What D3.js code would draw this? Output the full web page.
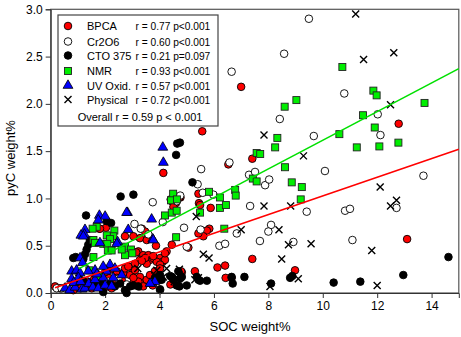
<!DOCTYPE html>
<html>
<head>
<meta charset="utf-8">
<title>pyC vs SOC</title>
<script src="https://cdn.jsdelivr.net/npm/d3@7"></script>
<style>
  body { margin: 0; background: #fff; }
  text { font-family: Arial, "Liberation Sans", sans-serif; fill: #000; }
</style>
</head>
<body>
<svg id="vis" width="461" height="337"></svg>
<script>
// values, [SOC weight%, pyC weight%]
const bpca = [[7.0,2.18],[5.57,1.71],[12.79,1.79],[7.41,1.42],[4.14,1.27],[6.53,1.36],[13.1,0.57],[7.41,0.36],[8.98,0.24],
  [5.43,1.05],[4.77,1.01],[5.45,0.95],[5.88,0.90],[5.49,0.93],[4.45,0.97],[4.6,0.95],[4.51,0.91],[4.41,0.99],[4.73,1.01],
  [5.83,0.68],[5.74,0.66],[5.61,0.60],[5.43,0.63],[3.35,0.68],[3.47,0.65],[3.59,0.60],[3.28,0.58],[3.53,0.56],[2.73,0.60],
  [3.04,0.60],[1.79,0.68],[2.03,0.69],[1.81,0.68],[4.45,0.51],[3.87,0.50],[5.06,0.48],[4.26,0.44],[3.22,0.44],[3.4,0.40],
  [3.28,0.35],[3.1,0.31],[3.59,0.40],[3.65,0.35],[3.53,0.31],[4.02,0.37],[4.12,0.33],[4.2,0.35],[3.77,0.37],[3.9,0.33],
  [4.02,0.30],[3.14,0.43],[3.47,0.37],[3.35,0.34],[4.2,0.42],[3.77,0.39],[6.13,0.27],[6.41,0.29],[5.3,0.23],[6.43,0.16],
  [6.65,0.16],[4.82,0.22],[4.79,0.23],[3.04,0.24],[2.98,0.19],[3.16,0.14],[3.04,0.10],[3.28,0.07],[3.47,0.12],[3.59,0.14],
  [2.43,0.23],[2.67,0.21],[2.92,0.19],[2.73,0.26],[2.85,0.28],[3.1,0.24],[3.28,0.17],[3.53,0.14],[3.65,0.19],[3.83,0.23],
  [4.02,0.26],[2.85,0.07],[2.61,0.14],[3.22,0.12],[3.4,0.07],[3.04,0.16],[2.43,0.16],[2.12,0.16],[0.16,0.07],[0.34,0.05],
  [0.83,0.03],[1.32,0.08],[1.51,0.05],[1.93,0.03],[2.06,0.07],[2.24,0.05],[1.36,0.12],[1.6,0.15],[1.85,0.18],[2.0,0.22],
  [2.2,0.25],[2.35,0.12],[1.1,0.05],[0.55,0.06],[4.4,0.09],[3.75,0.08]];
const cr2o6 = [[9.49,2.90],[8.58,2.53],[6.65,2.34],[10.79,2.11],[8.42,1.84],[12.02,1.89],[12.12,1.67],[9.67,1.66],[6.57,1.38],
  [5.53,1.31],[10.08,1.29],[13.7,1.24],[7.29,1.25],[7.51,1.28],[7.88,1.14],[8.03,1.20],[5.4,1.15],[5.59,1.06],[5.98,1.04],
  [4.76,1.03],[3.75,0.96],[4.63,0.97],[7.33,0.92],[9.41,0.86],[10.82,0.87],[11.0,0.89],[12.71,0.90],[4.12,0.75],[3.08,0.73],
  [3.31,0.68],[3.59,0.62],[4.9,0.69],[5.51,0.67],[6.84,0.63],[8.1,0.72],[8.0,0.65],[7.69,0.55],[8.92,0.54],[11.09,0.56],
  [5.0,0.49],[6.2,0.50],[6.41,0.52],[4.02,0.03],[0.22,0.05],[0.4,0.05],[0.65,0.07],[2.12,0.12],[2.48,0.15],[2.8,0.09],
  [1.2,0.10],[1.7,0.20]];
const cto375 = [[4.75,1.59],[4.65,1.58],[4.61,1.46],[5.21,1.17],[2.57,1.02],[3.04,1.04],[1.3,0.82],[2.06,0.76],[2.22,0.74],
  [1.44,0.56],[1.38,0.51],[1.32,0.46],[1.26,0.41],[1.2,0.36],[0.83,0.37],[0.92,0.38],[14.62,0.38],[12.96,0.19],[11.38,0.12],
  [10.4,0.11],[8.1,0.10],[8.8,0.16],[8.88,0.18],[7.12,0.17],[6.65,0.17],[6.69,0.10],[5.49,0.13],[5.74,0.13],[5.37,0.17],
  [5.43,0.14],[4.75,0.15],[4.73,0.07],[5.0,0.08],[4.69,0.23],[4.82,0.17],[4.51,0.14],[4.63,0.08],[4.39,0.18],[4.02,0.14],
  [4.02,0.19],[4.08,0.14],[3.83,0.16],[4.02,0.04],[2.92,0.07],[3.22,0.07],[3.04,0.08],[2.55,0.10],[2.36,0.07],[2.18,0.10],
  [2.73,0.03],[2.79,0.00],[1.08,0.14],[1.2,0.12],[1.63,0.10],[1.75,0.12],[1.87,0.10],[1.93,0.01],[4.45,0.17]];
const nmr = [[10.72,2.39],[11.86,2.14],[11.98,2.09],[9.03,2.04],[8.6,1.97],[13.74,2.01],[11.48,1.88],[11.91,1.75],[8.33,1.64],
  [10.61,1.68],[8.25,1.54],[11.25,1.54],[12.08,1.55],[12.78,1.59],[7.57,1.48],[7.7,1.47],[8.61,1.33],[7.43,1.21],[7.57,1.18],
  [8.86,1.17],[9.23,1.12],[9.19,0.99],[6.78,1.09],[6.8,1.03],[5.82,1.07],[6.22,1.01],[6.22,0.90],[6.44,0.93],[5.49,0.85],
  [6.38,0.68],[4.5,1.05],[4.42,0.98],[4.64,0.99],[4.2,0.82],[4.45,0.85],[4.63,0.87],[4.61,0.59],[1.69,0.70],[1.54,0.68],
  [2.34,0.66],[1.57,0.56],[1.63,0.53],[2.3,0.60],[2.06,0.61],[2.18,0.57],[1.93,0.52],[2.08,0.52],[2.1,0.45],[2.24,0.45],
  [2.73,0.49],[2.95,0.46],[2.73,0.40],[3.0,0.42],[2.61,0.46],[1.57,0.38],[1.42,0.24],[1.79,0.18]];
const uvOxid = [[4.12,1.54],[4.14,1.38],[2.82,0.85],[1.79,0.82],[2.0,0.81],[1.75,0.77],[2.79,0.85],[3.71,0.78],[3.75,0.57],
  [3.77,0.56],[1.26,0.67],[1.24,0.62],[1.11,0.61],[1.2,0.60],[2.85,0.67],[1.81,0.53],[2.46,0.54],[2.43,0.52],[1.08,0.37],
  [1.17,0.32],[0.77,0.23],[0.95,0.24],[1.08,0.21],[1.63,0.24],[2.18,0.30],[2.36,0.26],[2.05,0.23],[1.93,0.28],[3.71,0.10],
  [3.83,0.12],[3.65,0.10],[0.53,0.05],[0.7,0.03],[0.77,0.15],[0.9,0.06],[1.02,0.16],[1.15,0.04],[1.26,0.05],[1.38,0.23],
  [1.4,0.10],[1.55,0.06],[1.63,0.14],[1.75,0.05],[1.93,0.16],[2.0,0.08],[2.24,0.07],[2.61,0.19],[2.3,0.16],[0.85,0.11],
  [1.1,0.12],[1.7,0.20]];
const physical = [[11.21,2.95],[11.5,2.47],[12.61,2.54],[12.49,1.99],[7.84,1.67],[9.29,1.45],[12.11,1.12],[7.84,0.92],
  [8.82,0.92],[12.49,0.92],[12.71,0.98],[7.0,0.67],[8.39,0.67],[8.74,0.51],[9.57,0.52],[11.8,0.45],[8.49,0.36],[9.1,0.15],
  [8.06,0.07],[12.0,0.08],[5.35,0.81],[5.61,0.41],[5.82,0.37],[5.3,0.14],[4.75,0.17],[3.9,0.24],[4.73,0.25],[4.54,0.12],
  [3.83,0.19],[4.63,0.17],[3.2,0.26],[4.14,0.17],[4.26,0.26],[5.43,0.16]];

const seriesNames = ["BPCA", "Cr2O6", "CTO 375", "NMR", "UV Oxid.", "Physical"];
const seriesStats = ["r = 0.77 p<0.001", "r = 0.60 p<0.001", "r = 0.21 p=0.097", "r = 0.93 p<0.001", "r = 0.57 p<0.001", "r = 0.72 p<0.001"];
const overallText = "Overall r = 0.59 p < 0.001";

// regression lines (green = NMR, red = BPCA)
const fitNames = ["NMR", "BPCA"];
const fitIntercepts = [0.10, 0.04];
const fitSlopes = [0.1515, 0.0987];
const fitStart = [1.04, 0.16];

const xTicks = [0, 2, 4, 6, 8, 10, 12, 14];
const yTicks = [0, 0.5, 1.0, 1.5, 2.0, 2.5, 3.0];

const svg = d3.select("#vis");

const x = d3.scaleLinear().domain([0, 15]).range([50.7, 458.8]);
const y = d3.scaleLinear().domain([0, 3]).range([293, 9.3]);

// frame
svg.append("rect")
  .attr("x", x(0)).attr("y", y(3))
  .attr("width", x(15) - x(0)).attr("height", y(0) - y(3))
  .attr("fill", "none").attr("stroke", "#555").attr("stroke-width", 1.2);

const gx = svg.append("g").attr("transform", `translate(0,${y(0)})`)
  .call(d3.axisBottom(x).tickValues(xTicks).tickSize(5).tickPadding(3).tickFormat(d3.format("d")));
const gy = svg.append("g").attr("transform", `translate(${x(0)},0)`)
  .call(d3.axisLeft(y).tickValues(yTicks).tickSize(5).tickPadding(3).tickFormat(d3.format(".1f")));
[gx, gy].forEach(g => {
  g.selectAll("text").attr("font-size", 12).attr("font-family", "Arial, 'Liberation Sans', sans-serif");
  g.select(".domain").attr("stroke", "#333");
  g.selectAll(".tick line").attr("stroke", "#333");
});

svg.append("text").attr("x", 250).attr("y", 331).attr("text-anchor", "middle")
  .attr("font-size", 13).text("SOC weight%");
svg.append("text").attr("transform", "translate(15,158) rotate(-90)").attr("text-anchor", "middle")
  .attr("font-size", 13).text("pyC weight%");

// marker drawers
const tri = d3.symbol().type(d3.symbolTriangle).size(42)();
const markers = {
  "BPCA": (g) => g.append("circle").attr("r", 3.8).attr("fill", "#ff0000").attr("stroke", "#000").attr("stroke-width", 0.9),
  "Cr2O6": (g) => g.append("circle").attr("r", 3.8).attr("fill", "#fff").attr("stroke", "#000").attr("stroke-width", 0.9),
  "CTO 375": (g) => g.append("circle").attr("r", 3.8).attr("fill", "#000").attr("stroke", "#000").attr("stroke-width", 0.9),
  "NMR": (g) => g.append("rect").attr("x", -3.5).attr("y", -3.5).attr("width", 7).attr("height", 7)
    .attr("fill", "#00ee00").attr("stroke", "#222").attr("stroke-width", 0.9),
  "UV Oxid.": (g) => g.append("path").attr("d", tri).attr("fill", "#0000ff").attr("stroke", "#000").attr("stroke-width", 0.8),
  "Physical": (g) => g.append("path").attr("d", "M-3.5,-3.5L3.5,3.5M-3.5,3.5L3.5,-3.5")
    .attr("fill", "none").attr("stroke", "#000").attr("stroke-width", 1.4)
};

const seriesData = [bpca, cr2o6, cto375, nmr, uvOxid, physical];
const gPts = svg.append("g");
seriesData.forEach((pts, i) => {
  const name = seriesNames[i];
  pts.forEach(p => {
    const g = gPts.append("g").attr("transform", `translate(${x(p[0])},${y(p[1])})`);
    markers[name](g);
  });
});

// regression lines
const fitColors = { "NMR": "#00e000", "BPCA": "#ff0000" };
fitNames.forEach((n, i) => {
  svg.append("line")
    .attr("x1", x(fitStart[i])).attr("y1", y(fitIntercepts[i] + fitSlopes[i] * fitStart[i]))
    .attr("x2", x(15)).attr("y2", y(fitIntercepts[i] + fitSlopes[i] * 15))
    .attr("stroke", fitColors[n]).attr("stroke-width", 1.6);
});

// legend
const leg = svg.append("g");
leg.append("rect").attr("x", 58).attr("y", 15).attr("width", 160).attr("height", 111)
  .attr("fill", "#fff").attr("stroke", "#444").attr("stroke-width", 1.2);
const rowY = [26, 41.5, 55.5, 71, 85.5, 99.5];
seriesNames.forEach((n, i) => {
  const g = leg.append("g").attr("transform", `translate(68,${rowY[i]})`);
  markers[n](g);
  const t = leg.append("text").attr("x", 87).attr("y", rowY[i] + 4).attr("font-size", 11).text(n);
  const endX = 87 + t.node().getComputedTextLength();
  leg.append("text").attr("x", Math.max(135.5, endX + 4)).attr("y", rowY[i] + 4)
    .attr("font-size", 10.2).text(seriesStats[i]);
});
leg.append("text").attr("x", 140).attr("y", 121).attr("text-anchor", "middle")
  .attr("font-size", 11).text(overallText);
</script>
</body>
</html>
